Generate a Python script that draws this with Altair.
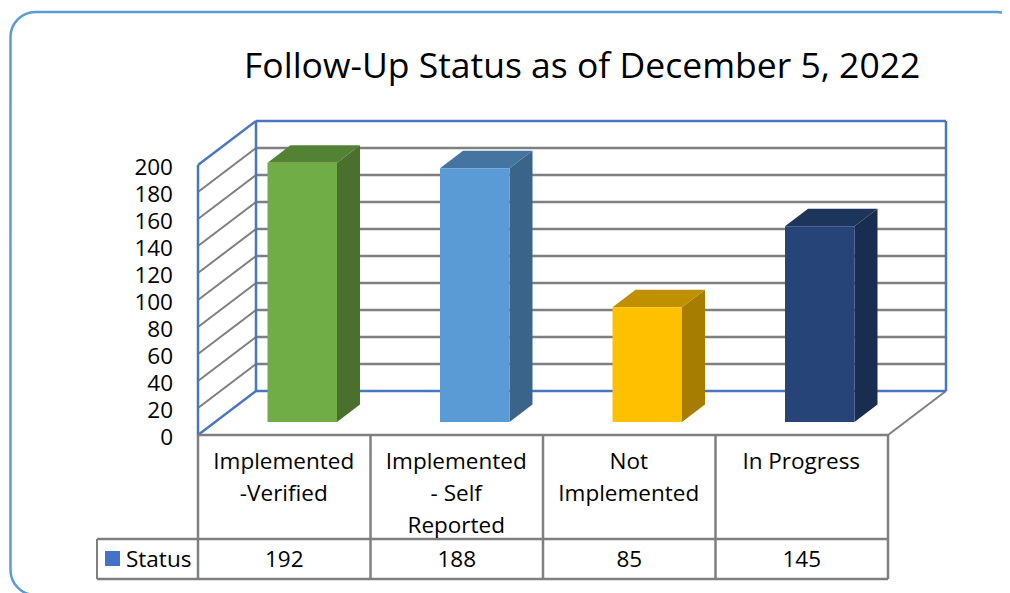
import altair as alt
import pandas as pd

# ---- chart values ----
title = "Follow-Up Status as of December 5, 2022"
categories = ["Implemented\n-Verified", "Implemented\n- Self\nReported", "Not\nImplemented", "In Progress"]
values = [192, 188, 85, 145]
series_name = "Status"
ticks = list(range(0, 201, 20))
front_colors = ["#70AD47", "#5B9BD5", "#FFC000", "#264478"]
top_colors = ["#548235", "#44749F", "#BF9000", "#1D345B"]
side_colors = ["#4A702E", "#3A6489", "#A67D00", "#192D50"]

FONT = "Open Sans"
W, H = 994, 585
OX, OY = 8, 8                # page margin
X0, CAT = 198, 172.5         # px of first category edge, px per category
Y0, UNIT = 435, 1.35         # px of value 0 on the front plane, px per value unit
WALL_DX, WALL_DY = 58, 44    # wall depth in px
BAR_DX, BAR_DY = 23, 17.5    # bar depth in px

def ux(px): return (px - X0) / CAT
def uy(py): return (Y0 - py) / UNIT

XS = alt.Scale(domain=[ux(OX), ux(OX + W)], range=[0, W], nice=False, zero=False)
YS = alt.Scale(domain=[uy(OY + H), uy(OY)], range=[H, 0], nice=False, zero=False)
def X(f="x"): return alt.X(f"{f}:Q", scale=XS, axis=None, title=None)
def Y(f="y"): return alt.Y(f"{f}:Q", scale=YS, axis=None, title=None, stack=None)

n = len(categories)
wdx, wdy = WALL_DX / CAT, WALL_DY / UNIT
bdx, bdy = BAR_DX / CAT, BAR_DY / UNIT
bar_w = 69.5 / CAT
bar_off = 69.5 / CAT      # front-face left edge from category edge
base = (Y0 - 422) / UNIT

# ---- segments: walls, gridlines, floor, data table ----
BLUE, GRAY = "#4A76C0", "#7F7F7F"
segs = []
def seg(x, y, x2, y2, c, w): segs.append(dict(x=x, y=y, x2=x2, y2=y2, c=c, w=w))
top = ticks[-1]
for t in ticks[1:-1]:
    seg(0, t, wdx, t + wdy, GRAY, 2)
    seg(wdx, t + wdy, n + wdx, t + wdy, GRAY, 2.5)
seg(n, 0, n + wdx, wdy, GRAY, 2)
seg(wdx, wdy, n + wdx, wdy, BLUE, 2.5)
seg(wdx, top + wdy, n + wdx, top + wdy, BLUE, 2.5)
seg(n + wdx, wdy, n + wdx, top + wdy, BLUE, 2.5)
seg(wdx, wdy, wdx, top + wdy, BLUE, 2.5)
seg(0, 0, 0, top, BLUE, 2.5)
seg(0, top, wdx, top + wdy, BLUE, 2.5)
seg(0, 0, wdx, wdy, BLUE, 2.5)
r1, r2 = uy(539), uy(579)
seg(0, 0, n, 0, GRAY, 2.5)
seg(ux(97), r1, n, r1, GRAY, 2.5)
seg(ux(97), r2, n, r2, GRAY, 2.5)
seg(ux(97), r1, ux(97), r2, GRAY, 2)
for i in range(n + 1):
    seg(i, 0, i, r2, GRAY, 2.5)
seg_df = pd.DataFrame(segs)

rules = alt.Chart(seg_df).mark_rule().encode(
    x=X(), x2="x2:Q", y=Y(), y2="y2:Q",
    color=alt.Color("c:N", scale=None),
    strokeWidth=alt.StrokeWidth("w:Q", scale=None),
)

# ---- bars: front, side, top faces ----
front_rows, side_rows, top_rows = [], [], []
for i, v in enumerate(values):
    l = i + bar_off
    r = l + bar_w
    front_rows.append(dict(x=l, x2=r, y=base, y2=base + v, c=front_colors[i]))
    side_rows.append(dict(b=i, x=r, y=base, y2=base + v, c=side_colors[i]))
    side_rows.append(dict(b=i, x=r + bdx, y=base + bdy, y2=base + v + bdy, c=side_colors[i]))
    top_rows.append(dict(b=i, y=base + v, x=l, x2=r, c=top_colors[i]))
    top_rows.append(dict(b=i, y=base + v + bdy, x=l + bdx, x2=r + bdx, c=top_colors[i]))

front = alt.Chart(pd.DataFrame(front_rows)).mark_rect().encode(
    x=X(), x2="x2:Q", y=Y(), y2="y2:Q", color=alt.Color("c:N", scale=None))
side = alt.Chart(pd.DataFrame(side_rows)).mark_area(orient="vertical").encode(
    x=X(), y=Y(), y2="y2:Q", color=alt.Color("c:N", scale=None), detail="b:N")
topf = alt.Chart(pd.DataFrame(top_rows)).mark_area(orient="horizontal").encode(
    y=Y(), x=alt.X("x:Q", scale=XS, axis=None, title=None, stack=None), x2="x2:Q",
    color=alt.Color("c:N", scale=None), detail="b:N")

# ---- value axis ----
axis_layer = alt.Chart(pd.DataFrame({"t": ticks, "x": [ux(173)] * len(ticks)})).mark_text(
    align="right", baseline="middle", font=FONT, fontSize=22.5, color="#000000", dy=3
).encode(x=X(), y=Y("t"), text="t:Q")

# ---- data table text ----
cat_df = pd.DataFrame({"x": [i + 0.5 for i in range(n)], "y": [uy(451)] * n, "t": categories})
cat_text = alt.Chart(cat_df).mark_text(
    align="center", baseline="top", font=FONT, fontSize=22.5, color="#000000",
    lineBreak="\n", lineHeight=32, dx=-0.5
).encode(x=X(), y=Y(), text="t:N")
val_df = pd.DataFrame({"x": [i + 0.5 for i in range(n)], "y": [uy(560)] * n, "t": values})
val_text = alt.Chart(val_df).mark_text(
    align="center", baseline="middle", font=FONT, fontSize=22.5, color="#000000"
).encode(x=X(), y=Y(), text="t:Q")
name_df = pd.DataFrame({"x": [ux(126)], "y": [uy(560)], "t": [series_name]})
name_text = alt.Chart(name_df).mark_text(
    align="left", baseline="middle", font=FONT, fontSize=22.5, color="#000000"
).encode(x=X(), y=Y(), text="t:N")
key = alt.Chart(pd.DataFrame({"x": [ux(105)], "x2": [ux(120)], "y": [uy(551)], "y2": [uy(566)]})).mark_rect(
    color="#4472C4").encode(x=X(), x2="x2:Q", y=Y(), y2="y2:Q")

# ---- rounded outer frame ----
frame = alt.Chart(pd.DataFrame({"x": [ux(10.5)], "x2": [ux(1022)], "y": [uy(12)], "y2": [uy(595)]})).mark_rect(
    fill="#FFFFFF", stroke="#5B9BD5", strokeWidth=2.5, cornerRadius=25, clip=True
).encode(x=X(), x2="x2:Q", y=Y(), y2="y2:Q")

# ---- title ----
title_df = pd.DataFrame({"x": [ux(244)], "y": [uy(67)], "t": [title]})
title_text = alt.Chart(title_df).mark_text(
    align="left", baseline="middle", font=FONT, fontSize=35.5, color="#000000"
).encode(x=X(), y=Y(), text="t:N")

chart = alt.layer(
    frame, rules, side, topf, front, axis_layer, cat_text, val_text, name_text, key, title_text
).properties(
    width=W, height=H, padding=0, autosize=alt.AutoSizeParams(type="none"), background="#FFFFFF"
).configure_view(stroke=None)

chart.save("out.html", embed_options={"renderer": "svg", "actions": False})
